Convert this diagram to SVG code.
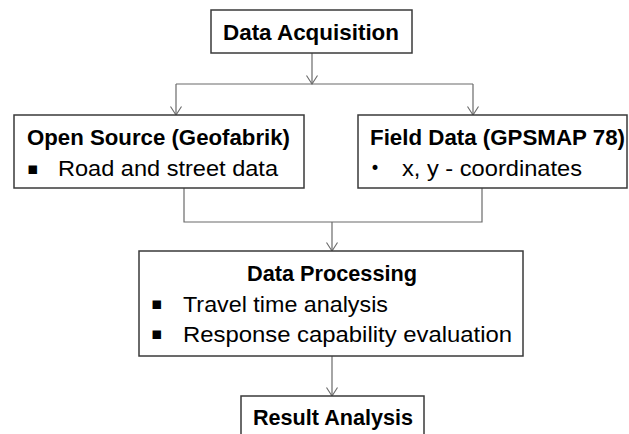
<svg xmlns="http://www.w3.org/2000/svg" width="629" height="434" viewBox="0 0 629 434">
<style>
.box{fill:#fff;stroke:#3a3a3a;stroke-width:1.5}
.con{fill:none;stroke:#6a6a6a;stroke-width:1.2}
.h{font-family:"Liberation Sans",Arial,sans-serif;font-weight:bold;font-size:22px;fill:#000}
.t{font-family:"Liberation Sans",Arial,sans-serif;font-size:22px;fill:#000}
.b{font-family:"DejaVu Sans",sans-serif;font-size:17px;fill:#000}
</style>
<defs>
<marker id="arr" markerUnits="userSpaceOnUse" viewBox="0 0 10 13" refX="9" refY="6.5" markerWidth="10" markerHeight="13" orient="auto">
<path d="M0.5,1 L9,6.5 L0.5,12" fill="none" stroke="#6a6a6a" stroke-width="1.1"/>
</marker>
</defs>
<g id="connectors">
<line class="con" x1="312" y1="53" x2="312" y2="84" marker-end="url(#arr)"/>
<line class="con" x1="176" y1="84" x2="473" y2="84"/>
<line class="con" x1="176" y1="84" x2="176" y2="115" marker-end="url(#arr)"/>
<line class="con" x1="473" y1="84" x2="473" y2="115" marker-end="url(#arr)"/>
<polyline class="con" points="184,188 184,222 482,222 482,188"/>
<line class="con" x1="332" y1="222" x2="332" y2="251" marker-end="url(#arr)"/>
<line class="con" x1="332" y1="356" x2="332" y2="396" marker-end="url(#arr)"/>
</g>
<g id="data-acquisition">
<rect class="box" x="211" y="10" width="201" height="43"/>
<text class="h" x="223" y="40" textLength="176" lengthAdjust="spacingAndGlyphs">Data Acquisition</text>
</g>
<g id="open-source">
<rect class="box" x="14" y="115" width="290" height="73"/>
<text class="h" x="27" y="145" textLength="263" lengthAdjust="spacingAndGlyphs">Open Source (Geofabrik)</text>
<text class="b" x="27" y="174">▪</text>
<text class="t" x="58" y="176" textLength="220" lengthAdjust="spacingAndGlyphs">Road and street data</text>
</g>
<g id="field-data">
<rect class="box" x="358" y="115" width="269" height="73"/>
<text class="h" x="370" y="145" textLength="255" lengthAdjust="spacingAndGlyphs">Field Data (GPSMAP 78)</text>
<text class="b" x="370" y="174">•</text>
<text class="t" x="402" y="176" textLength="180" lengthAdjust="spacingAndGlyphs">x, y - coordinates</text>
</g>
<g id="data-processing">
<rect class="box" x="139" y="251" width="384" height="105"/>
<text class="h" x="247" y="281" textLength="170" lengthAdjust="spacingAndGlyphs">Data Processing</text>
<text class="b" x="151" y="309">▪</text>
<text class="t" x="183" y="312" textLength="205" lengthAdjust="spacingAndGlyphs">Travel time analysis</text>
<text class="b" x="151" y="339">▪</text>
<text class="t" x="183" y="342" textLength="329" lengthAdjust="spacingAndGlyphs">Response capability evaluation</text>
</g>
<g id="result-analysis">
<rect class="box" x="241" y="396" width="183" height="50"/>
<text class="h" x="253" y="425" textLength="160" lengthAdjust="spacingAndGlyphs">Result Analysis</text>
</g>
</svg>
